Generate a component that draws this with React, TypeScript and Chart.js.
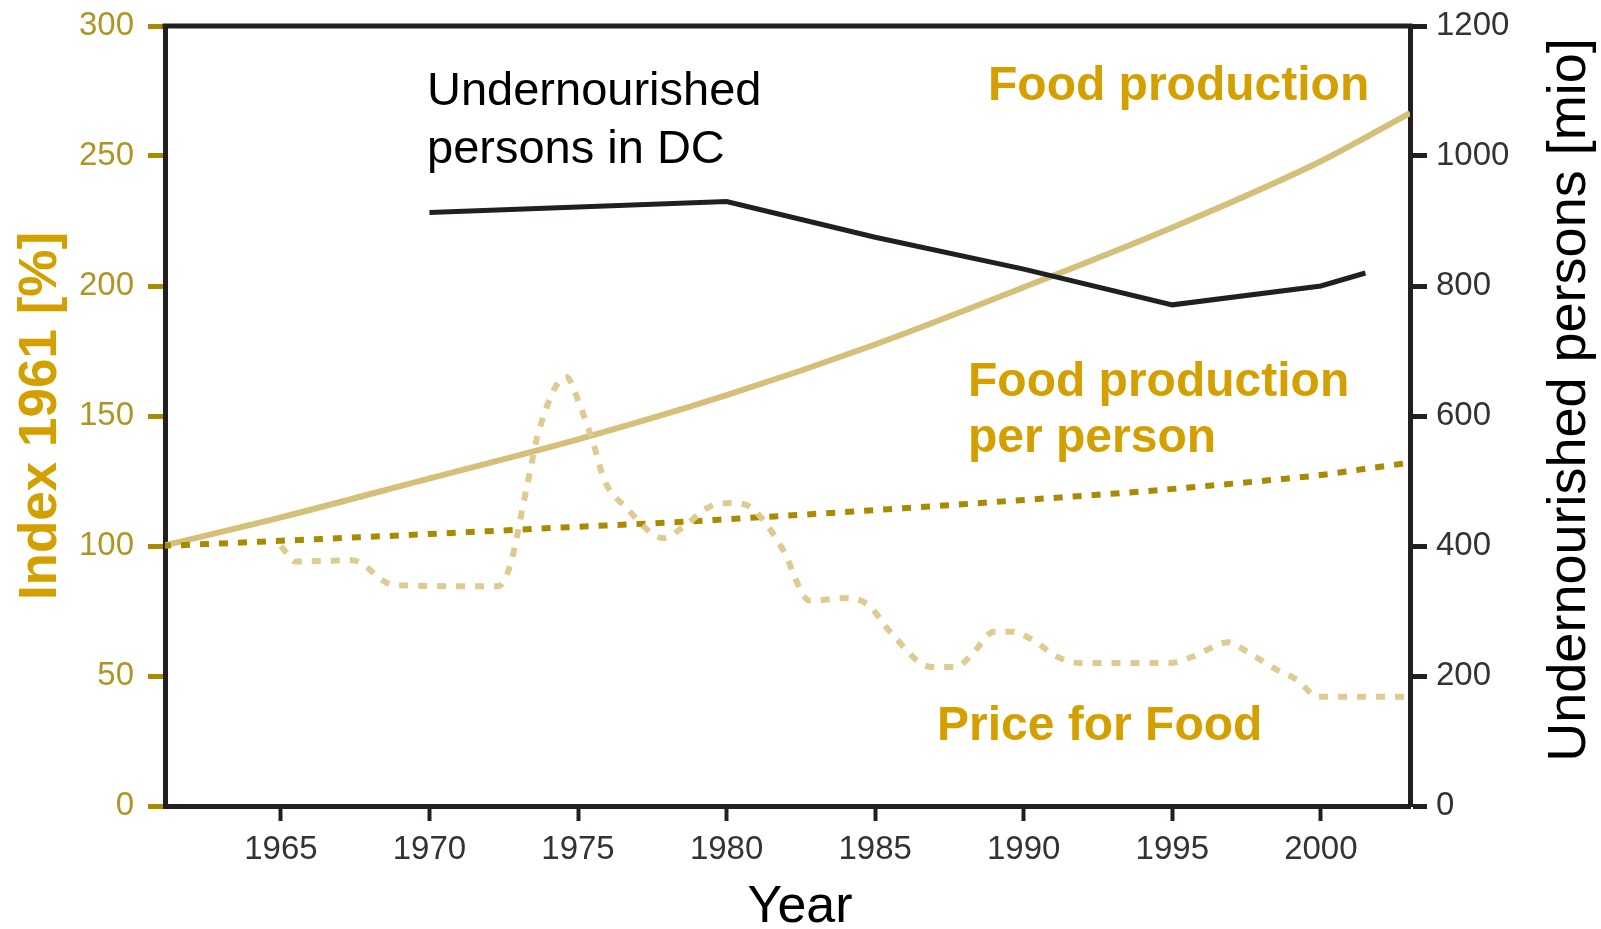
import React, { useEffect, useRef } from "react";
import { Chart, registerables } from "chart.js";

Chart.register(...registerables);

// ---- data ----
const xTicks = [1965, 1970, 1975, 1980, 1985, 1990, 1995, 2000];
const leftTicks = [0, 50, 100, 150, 200, 250, 300];
const rightTicks = [0, 200, 400, 600, 800, 1000, 1200];

const foodProdYears = [1961, 1965, 1970, 1975, 1980, 1985, 1990, 1995, 2000, 2003];
const foodProdValues = [100, 111, 126, 141, 158, 177.5, 199.5, 222.5, 248, 266.5];

const perPersonYears = [1961, 1965, 1970, 1975, 1978, 1980, 1985, 1990, 1994, 1998, 2000, 2002, 2003];
const perPersonValues = [100, 102, 104.6, 107.4, 109, 110.3, 113.8, 117.7, 121, 125, 127.3, 130.5, 132];

const priceYears = [
  1965.0, 1965.5, 1967.4, 1968.8, 1972.3, 1972.7, 1973.3, 1973.7, 1974.6, 1975.1,
  1975.5, 1975.9, 1976.6, 1977.9, 1978.5, 1979.5, 1980.2, 1980.8, 1981.3, 1981.9,
  1982.8, 1984.1, 1984.8, 1985.5, 1986.9, 1987.7, 1988.2, 1989.0, 1989.6, 1990.2,
  1991.2, 1991.9, 1994.9, 1995.7, 1996.9, 1997.5, 1998.5, 1999.2, 1999.9, 2003,
];
const priceValues = [
  100, 94, 94.5, 85, 84.5, 92, 124, 145, 165, 153,
  140, 125, 115, 103, 107, 115.5, 116.5, 115, 109, 98.5,
  79, 80, 77, 67, 53.5, 53.5, 57.5, 67, 67, 64.5,
  57, 55, 55, 57.5, 63, 59.5, 52.5, 48.5, 42, 42,
];

const undernourishedYears = [1970, 1980, 1985, 1990, 1995, 2000, 2001.5];
const undernourishedValues = [913, 930, 875, 826, 771, 800, 820];

// ---- styles ----
const FONT = "'Liberation Sans', Arial, Helvetica, sans-serif";
const AXIS = "#231F20";
const GOLD = "#D4A000";
const FOOD_PROD = "#D5C07A";
const PER_PERSON = "#A88B00";
const PRICE = "#DECB92";
const LEFT_TICK_LABEL = "#AE9625";
const LEFT_TICK_MARK = "#A88B00";

const pts = (xs: number[], ys: number[]) => xs.map((x, i) => ({ x, y: ys[i] }));

const annotationPlugin = {
  id: "annotations",
  afterDraw(chart: any) {
    const { ctx, chartArea } = chart;
    ctx.save();
    // top frame
    ctx.strokeStyle = AXIS;
    ctx.lineWidth = 5;
    ctx.beginPath();
    ctx.moveTo(chartArea.left - 2.5, chartArea.top);
    ctx.lineTo(chartArea.right + 2.5, chartArea.top);
    ctx.stroke();

    ctx.textAlign = "left";
    ctx.textBaseline = "alphabetic";
    ctx.fillStyle = "#000";
    ctx.font = `47px ${FONT}`;
    ctx.fillText("Undernourished", 427, 105);
    ctx.fillText("persons in DC", 427, 163);

    ctx.fillStyle = GOLD;
    ctx.font = `bold 48px ${FONT}`;
    ctx.fillText("Food production", 988, 100);
    ctx.fillText("Food production", 968, 396);
    ctx.fillText("per person", 968, 452);
    ctx.fillText("Price for Food", 937, 740);

    // x axis title
    ctx.textAlign = "center";
    ctx.fillStyle = "#000";
    ctx.font = `52px ${FONT}`;
    ctx.fillText("Year", 800, 922);

    // right axis title (reads bottom to top)
    ctx.save();
    ctx.translate(1585, 400);
    ctx.rotate(-Math.PI / 2);
    ctx.textAlign = "center";
    ctx.fillStyle = "#000";
    ctx.font = `54px ${FONT}`;
    ctx.fillText("Undernourished persons [mio]", 0, 0);
    ctx.restore();

    ctx.restore();
  },
};

const noPad = (s: any) => {
  s.paddingTop = 0;
  s.paddingBottom = 0;
};

export default function App() {
  const ref = useRef<HTMLCanvasElement>(null);

  useEffect(() => {
    if (!ref.current) return;
    const chart = new Chart(ref.current, {
      type: "line",
      data: {
        datasets: [
          {
            label: "Undernourished persons in DC",
            data: pts(undernourishedYears, undernourishedValues),
            yAxisID: "y2",
            borderColor: AXIS,
            borderWidth: 5,
            pointRadius: 0,
            tension: 0,
            order: 0,
          },
          {
            label: "Price for Food",
            data: pts(priceYears, priceValues),
            yAxisID: "y",
            borderColor: PRICE,
            borderWidth: 6,
            borderDash: [9, 10],
            pointRadius: 0,
            cubicInterpolationMode: "monotone",
            order: 1,
          },
          {
            label: "Food production per person",
            data: pts(perPersonYears, perPersonValues),
            yAxisID: "y",
            borderColor: PER_PERSON,
            borderWidth: 6,
            borderDash: [9, 10],
            pointRadius: 0,
            cubicInterpolationMode: "monotone",
            order: 2,
          },
          {
            label: "Food production",
            data: pts(foodProdYears, foodProdValues),
            yAxisID: "y",
            borderColor: FOOD_PROD,
            borderWidth: 6,
            pointRadius: 0,
            cubicInterpolationMode: "monotone",
            order: 3,
          },
        ],
      },
      options: {
        responsive: false,
        animation: false,
        devicePixelRatio: 1,
        layout: { padding: { top: 26, left: 0, right: 0, bottom: 0 } },
        plugins: { legend: { display: false }, tooltip: { enabled: false } },
        font: { family: FONT },
        scales: {
          x: {
            type: "linear",
            position: "bottom",
            min: 1961.1,
            max: 2003,
            afterBuildTicks: (s: any) => {
              s.ticks = xTicks.map((v) => ({ value: v }));
            },
            afterFit: (s: any) => {
              s.height = 123;
            },
            grid: {
              drawOnChartArea: false,
              drawTicks: true,
              tickLength: 15,
              tickWidth: 4,
              tickColor: AXIS,
            },
            border: { display: true, color: AXIS, width: 5 },
            ticks: {
              color: "#333",
              font: { family: FONT, size: 33 },
              padding: 9,
              maxRotation: 0,
              autoSkip: false,
              callback: (v: any) => String(v),
            },
          },
          y: {
            type: "linear",
            position: "left",
            min: 0,
            max: 300,
            afterBuildTicks: (s: any) => {
              s.ticks = leftTicks.map((v) => ({ value: v }));
            },
            afterFit: (s: any) => {
              s.width = 165;
              noPad(s);
            },
            grid: {
              drawOnChartArea: false,
              drawTicks: true,
              tickLength: 17,
              tickWidth: 5,
              tickColor: LEFT_TICK_MARK,
            },
            border: { display: true, color: AXIS, width: 5 },
            ticks: {
              color: LEFT_TICK_LABEL,
              font: { family: FONT, size: 33 },
              padding: 14,
              autoSkip: false,
              callback: (v: any) => String(v),
            },
            title: {
              display: true,
              text: "Index 1961 [%]",
              color: GOLD,
              font: { family: FONT, size: 53, weight: "bold" },
              padding: { top: 10, bottom: 0 },
            },
          },
          y2: {
            type: "linear",
            position: "right",
            min: 0,
            max: 1200,
            afterBuildTicks: (s: any) => {
              s.ticks = rightTicks.map((v) => ({ value: v }));
            },
            afterFit: (s: any) => {
              s.width = 191;
              noPad(s);
            },
            grid: {
              drawOnChartArea: false,
              drawTicks: true,
              tickLength: 17,
              tickWidth: 5,
              tickColor: AXIS,
            },
            border: { display: true, color: AXIS, width: 5 },
            ticks: {
              color: "#333",
              font: { family: FONT, size: 33 },
              padding: 9,
              autoSkip: false,
              callback: (v: any) => String(v),
            },
          },
        },
      } as any,
      plugins: [annotationPlugin],
    });
    return () => chart.destroy();
  }, []);

  return (
    <div style={{ position: "fixed", left: 0, top: 0, width: 1601, height: 929, background: "#fff" }}>
      <canvas ref={ref} width={1601} height={929} style={{ display: "block" }} />
    </div>
  );
}
